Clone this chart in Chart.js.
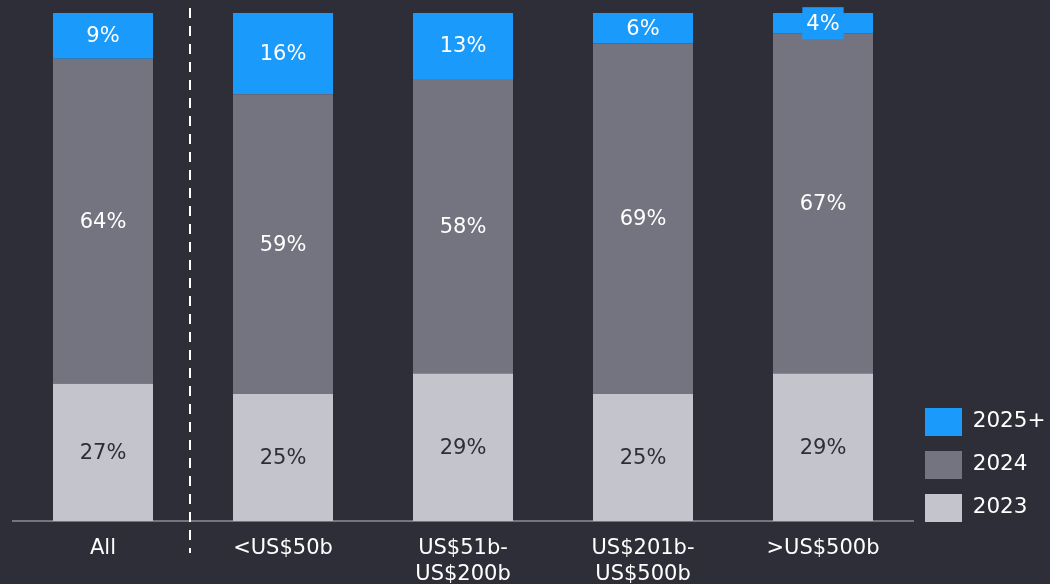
<!DOCTYPE html>
<html>
<head>
<meta charset="utf-8">
<script src="https://cdn.jsdelivr.net/npm/chart.js@4/dist/chart.umd.min.js"></script>
<style>
  html, body { margin: 0; padding: 0; background: #2e2e38; }
  #wrap { width: 1050px; height: 584px; }
</style>
</head>
<body>
<div id="wrap"><canvas id="myChart" width="1050" height="584"></canvas></div>
<script>
const categories = ['All', '<US$50b', ['US$51b-', 'US$200b'], ['US$201b-', 'US$500b'], '>US$500b'];
const share2023 = [27, 25, 29, 25, 29];
const share2024 = [64, 59, 58, 69, 67];
const share2025 = [9, 16, 13, 6, 4];

const FONT = '"DejaVu Sans", sans-serif';

// values written in the middle of each stack segment
const segmentLabels = {
    id: 'segmentLabels',
    afterDatasetsDraw(chart) {
        const ctx = chart.ctx;
        ctx.save();
        ctx.font = '21px ' + FONT;
        ctx.textAlign = 'center';
        ctx.textBaseline = 'middle';
        chart.data.datasets.forEach((ds, di) => {
            const meta = chart.getDatasetMeta(di);
            meta.data.forEach((bar, i) => {
                const v = ds.data[i];
                const text = v + '%';
                const cy = (bar.y + bar.base) / 2;
                if (v < 5) {
                    const w = ctx.measureText(text).width + 8;
                    ctx.fillStyle = ds.backgroundColor;
                    ctx.fillRect(bar.x - w / 2, cy - 16, w, 32);
                }
                ctx.fillStyle = ds.labelColor;
                ctx.fillText(text, bar.x, cy + 1);
            });
        });
        ctx.restore();
    }
};

// dashed separator between "All" and the size bands
const separator = {
    id: 'separator',
    afterDraw(chart) {
        const x = chart.scales.x;
        const px = (x.getPixelForValue(0) + x.getPixelForValue(1)) / 2 - 3;
        const ctx = chart.ctx;
        ctx.save();
        ctx.strokeStyle = '#ffffff';
        ctx.lineWidth = 2;
        ctx.setLineDash([10, 8]);
        ctx.beginPath();
        ctx.moveTo(px, chart.chartArea.top - 5);
        ctx.lineTo(px, chart.chartArea.bottom + 32);
        ctx.stroke();
        ctx.restore();
    }
};

// keep the legend stack ending at the baseline instead of the canvas bottom
const legendNudge = {
    id: 'legendNudge',
    afterLayout(chart) {
        if (chart.legend) {
            chart.legend.bottom = chart.chartArea.bottom + 16;
            chart.legend.left -= 3;
        }
    }
};

Chart.defaults.animation = false;

new Chart(document.getElementById('myChart'), {
    type: 'bar',
    data: {
        labels: categories,
        datasets: [
            {
                label: '2023',
                data: share2023,
                backgroundColor: '#c4c4cd',
                labelColor: '#2e2e38'
            },
            {
                label: '2024',
                data: share2024,
                backgroundColor: '#747480',
                labelColor: '#ffffff'
            },
            {
                label: '2025+',
                data: share2025,
                backgroundColor: '#1a9afa',
                labelColor: '#ffffff'
            }
        ]
    },
    options: {
        responsive: false,
        datasets: {
            bar: {
                categoryPercentage: 1,
                barPercentage: 0.5556,
                borderWidth: 0
            }
        },
        layout: {
            padding: { top: 13, left: 13, right: 0, bottom: -19 }
        },
        plugins: {
            legend: {
                position: 'right',
                align: 'end',
                reverse: true,
                maxWidth: 137,
                labels: {
                    boxWidth: 37,
                    boxHeight: 28,
                    padding: 15,
                    color: '#ffffff',
                    font: { family: FONT, size: 21.5 }
                }
            },
            tooltip: { enabled: false }
        },
        scales: {
            x: {
                stacked: true,
                grid: { display: false, drawTicks: false },
                border: { color: '#747480', width: 2 },
                ticks: {
                    color: '#ffffff',
                    padding: 15,
                    maxRotation: 0,
                    autoSkip: false,
                    font: { family: FONT, size: 21, lineHeight: 1.24 }
                }
            },
            y: {
                stacked: true,
                display: false,
                min: 0,
                max: 100
            }
        }
    },
    plugins: [segmentLabels, separator, legendNudge]
});
</script>
</body>
</html>
